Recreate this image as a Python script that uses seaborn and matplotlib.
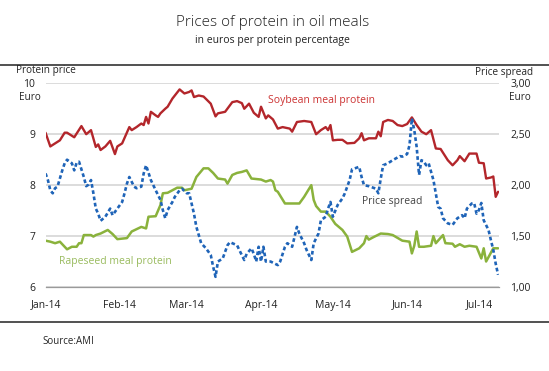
import matplotlib.pyplot as plt
import matplotlib.dates as mdates
from matplotlib.lines import Line2D
from matplotlib.ticker import FuncFormatter
import pandas as pd
import seaborn as sns

start = pd.Timestamp('2014-01-01')

# days since 1 Jan 2014, prices in euro per protein percentage
soy_day = [0, 2, 4, 6, 8, 9, 12, 15, 17, 19, 21, 22, 23, 25, 27, 29, 30, 32, 35, 36,
           38, 40, 41, 42, 43, 44, 46, 47, 48, 50, 51, 53, 56, 58, 60, 61, 62, 64, 66, 69,
           71, 72, 75, 78, 80, 82, 83, 85, 87, 89, 90, 92, 93, 95, 97, 99, 102, 103, 105, 108,
           111, 113, 115, 117, 118, 119, 120, 122, 124, 126, 129, 131, 132, 133, 135, 138, 139, 140, 141, 143,
           145, 147, 149, 151, 153, 155, 157, 159, 161, 163, 165, 168, 170, 172, 173, 175, 177, 180, 181, 183,
           184, 186, 187, 188, 189]
soy_price = [9.03, 8.76, 8.82, 8.88, 9.03, 9.03, 8.94, 9.16, 9.00, 9.08, 8.75, 8.80, 8.69, 8.76, 8.87, 8.61, 8.76, 8.82, 9.14, 9.08,
             9.14, 9.21, 9.18, 9.34, 9.21, 9.44, 9.37, 9.34, 9.41, 9.50, 9.54, 9.70, 9.88, 9.80, 9.83, 9.86, 9.73, 9.76, 9.74, 9.60,
             9.35, 9.41, 9.44, 9.63, 9.65, 9.61, 9.50, 9.60, 9.42, 9.34, 9.54, 9.31, 9.37, 9.29, 9.11, 9.14, 9.11, 9.05, 9.24, 9.26,
             9.24, 9.00, 9.08, 9.14, 9.08, 9.18, 8.88, 8.89, 8.89, 8.82, 8.83, 8.92, 9.02, 8.88, 8.92, 8.92, 9.05, 8.96, 9.24, 9.28,
             9.26, 9.18, 9.16, 9.20, 9.33, 9.18, 9.05, 9.00, 9.08, 8.72, 8.71, 8.49, 8.39, 8.49, 8.57, 8.47, 8.62, 8.62, 8.44, 8.43,
             8.13, 8.15, 8.17, 7.77, 7.87]

rape_day = [0, 2, 4, 6, 7, 9, 11, 13, 14, 15, 16, 19, 20, 21, 23, 26, 28, 30, 34, 36,
            40, 42, 43, 46, 48, 49, 51, 53, 55, 57, 58, 61, 63, 66, 68, 70, 72, 75, 76, 78,
            80, 82, 84, 86, 90, 92, 94, 95, 96, 97, 100, 106, 108, 111, 112, 113, 115, 117, 119, 121,
            124, 126, 128, 131, 133, 134, 135, 137, 140, 143, 145, 149, 152, 153, 154, 155, 156, 158, 161, 162,
            163, 166, 167, 170, 171, 173, 175, 177, 180, 182, 183, 184, 187, 189]
rape_price = [6.91, 6.89, 6.86, 6.89, 6.84, 6.74, 6.79, 6.79, 6.86, 6.86, 7.02, 7.02, 6.99, 7.02, 7.05, 7.12, 7.04, 6.94, 6.96, 7.09,
              7.18, 7.15, 7.38, 7.39, 7.61, 7.84, 7.85, 7.90, 7.95, 7.95, 7.90, 7.93, 8.16, 8.33, 8.33, 8.24, 8.13, 8.11, 8.03, 8.20,
              8.24, 8.26, 8.29, 8.13, 8.11, 8.07, 8.10, 8.07, 7.90, 7.87, 7.64, 7.64, 7.77, 8.00, 7.71, 7.59, 7.48, 7.48, 7.38, 7.24,
              7.12, 6.99, 6.69, 6.76, 6.86, 7.00, 6.93, 6.98, 7.05, 7.04, 7.02, 6.91, 6.89, 6.66, 6.81, 7.09, 6.79, 6.79, 6.81, 7.00,
              6.86, 7.02, 6.86, 6.85, 6.79, 6.84, 6.79, 6.81, 6.79, 6.56, 6.76, 6.50, 6.76, 6.76]

spread_day = [0, 1, 2, 3, 4, 5, 7, 8, 9, 11, 12, 13, 14, 16, 17, 18, 19, 20, 21, 22,
              23, 25, 27, 28, 30, 32, 33, 34, 35, 37, 38, 40, 41, 42, 44, 46, 48, 49, 50, 51,
              53, 54, 56, 57, 59, 60, 62, 63, 65, 67, 69, 70, 71, 72, 74, 76, 77, 78, 80, 81,
              83, 84, 86, 87, 88, 89, 90, 91, 92, 94, 97, 98, 100, 101, 103, 105, 106, 108, 109, 111,
              112, 114, 115, 117, 118, 119, 120, 122, 124, 125, 127, 128, 131, 132, 133, 135, 138, 139, 140, 141,
              143, 145, 148, 149, 151, 152, 153, 154, 155, 156, 157, 158, 159, 160, 162, 163, 164, 165, 166, 168,
              170, 172, 174, 175, 176, 178, 179, 180, 181, 182, 183, 185, 186, 187, 188, 189]
spread = [2.115, 2.05, 1.95, 1.92, 1.97, 1.985, 2.145, 2.215, 2.25, 2.215, 2.145, 2.22, 2.23, 2.08, 1.99, 2.005, 2.05, 1.92, 1.77, 1.72,
          1.65, 1.69, 1.77, 1.705, 1.77, 1.835, 1.92, 2.015, 2.08, 1.985, 1.97, 1.985, 2.115, 2.195, 2.05, 1.95, 1.855, 1.755, 1.675, 1.755,
          1.835, 1.885, 1.95, 1.965, 1.92, 1.92, 1.72, 1.59, 1.43, 1.38, 1.315, 1.20, 1.10, 1.25, 1.28, 1.41, 1.44, 1.43, 1.41, 1.36,
          1.265, 1.325, 1.38, 1.325, 1.25, 1.395, 1.25, 1.395, 1.25, 1.25, 1.215, 1.25, 1.395, 1.43, 1.395, 1.59, 1.525, 1.43, 1.365, 1.265,
          1.43, 1.525, 1.655, 1.69, 1.77, 1.835, 1.69, 1.805, 1.87, 1.92, 2.05, 2.155, 2.18, 2.08, 2.0, 1.99, 1.965, 1.92, 2.065, 2.195,
          2.215, 2.245, 2.285, 2.28, 2.305, 2.39, 2.655, 2.54, 2.375, 2.10, 2.245, 2.23, 2.195, 2.215, 2.05, 1.92, 1.785, 1.77, 1.675, 1.625,
          1.61, 1.675, 1.705, 1.675, 1.77, 1.82, 1.825, 1.72, 1.755, 1.825, 1.655, 1.56, 1.46, 1.365, 1.23, 1.12]

month_ticks = ['2014-01-01', '2014-02-01', '2014-03-01', '2014-04-01',
               '2014-05-01', '2014-06-01', '2014-07-01']
left_ticks = [6, 7, 8, 9, 10]
right_ticks = [1.0, 1.5, 2.0, 2.5, 3.0]

soy = pd.DataFrame({'date': start + pd.to_timedelta(soy_day, unit='D'), 'price': soy_price})
rape = pd.DataFrame({'date': start + pd.to_timedelta(rape_day, unit='D'), 'price': rape_price})
spr = pd.DataFrame({'date': start + pd.to_timedelta(spread_day, unit='D'), 'spread': spread})

RED = '#b3262b'
GREEN = '#8ab23c'
BLUE = '#1f64b8'

sns.set_style('white')
plt.rcParams['font.family'] = ['Open Sans', 'DejaVu Sans']

fig = plt.figure(figsize=(5.49, 3.71), dpi=100)
ax = fig.add_axes([0.0829, 0.2264, 0.8261, 0.5491])
ax2 = ax.twinx()

sns.lineplot(data=soy, x='date', y='price', ax=ax, color=RED, lw=1.7, estimator=None)
sns.lineplot(data=rape, x='date', y='price', ax=ax, color=GREEN, lw=1.8, estimator=None)
sns.lineplot(data=spr, x='date', y='spread', ax=ax2, color=BLUE, lw=1.9,
             linestyle=(0, (1.4, 1.0)), estimator=None)

ax.set_xlim(start, start + pd.Timedelta(days=189.4))
ax.set_ylim(6, 10)
ax2.set_ylim(1, 3)
ax.set_yticks(left_ticks)
ax2.set_yticks(right_ticks)
ax2.yaxis.set_major_formatter(FuncFormatter(lambda v, p: f'{v:.2f}'.replace('.', ',')))
ax.set_xticks(pd.to_datetime(month_ticks))
ax.xaxis.set_major_formatter(mdates.DateFormatter('%b-%y'))

ax.set_xlabel('')
ax.set_ylabel('')
ax2.set_ylabel('')
ax.grid(axis='y', color='#d9d9d9', lw=1.3)
ax.set_axisbelow(True)

for a in (ax, ax2):
    for s in ('top', 'left', 'right', 'bottom'):
        a.spines[s].set_visible(False)
ax.spines['bottom'].set_visible(True)
ax.spines['bottom'].set_color('#9a9a9a')
ax.spines['bottom'].set_linewidth(0.9)

ax.tick_params(axis='x', length=3, width=0.8, color='#9a9a9a', pad=6, labelsize=7.5, labelcolor='#222222')
ax.tick_params(axis='y', length=0, pad=7.5, labelsize=7.5, labelcolor='#222222')
ax2.tick_params(axis='y', length=0, pad=8, labelsize=7.5, labelcolor='#222222')

# series labels
ax.text(0.4906, 0.9146, 'Soybean meal protein', transform=ax.transAxes,
        color='#cc3333', fontsize=7.5, va='center')
ax.text(0.0304, 0.1242, 'Rapeseed meal protein', transform=ax.transAxes,
        color='#99bb5e', fontsize=7.5, va='center')
ax.text(0.697, 0.4188, 'Price spread', transform=ax.transAxes,
        color='#444444', fontsize=7.5, va='center')

# titles and axis captions
fig.text(0.497, 1 - 23 / 371, 'Prices of protein in oil meals', ha='center', va='center',
         fontsize=11, fontweight='light', color='#222222')
fig.text(0.497, 1 - 41 / 371, 'in euros per protein percentage', ha='center', va='center',
         fontsize=7.5, color='#222222')
fig.text(16 / 549, 1 - 70 / 371, 'Protein price', ha='left', va='center', fontsize=7.2)
fig.text(30 / 549, 1 - 98 / 371, 'Euro', ha='center', va='center', fontsize=7.2)
fig.text(533 / 549, 1 - 72 / 371, 'Price spread', ha='right', va='center', fontsize=7.2)
fig.text(520 / 549, 1 - 98 / 371, 'Euro', ha='center', va='center', fontsize=7.2)
fig.text(42 / 549, 1 - 341 / 371, 'Source:AMI', ha='left', va='center', fontsize=7)

fig.add_artist(Line2D([0, 1], [1 - 65 / 371] * 2, color='#333333', lw=1.2))
fig.add_artist(Line2D([0, 1], [1 - 322 / 371] * 2, color='#333333', lw=1.2))

fig.savefig('out.png', dpi=100)
